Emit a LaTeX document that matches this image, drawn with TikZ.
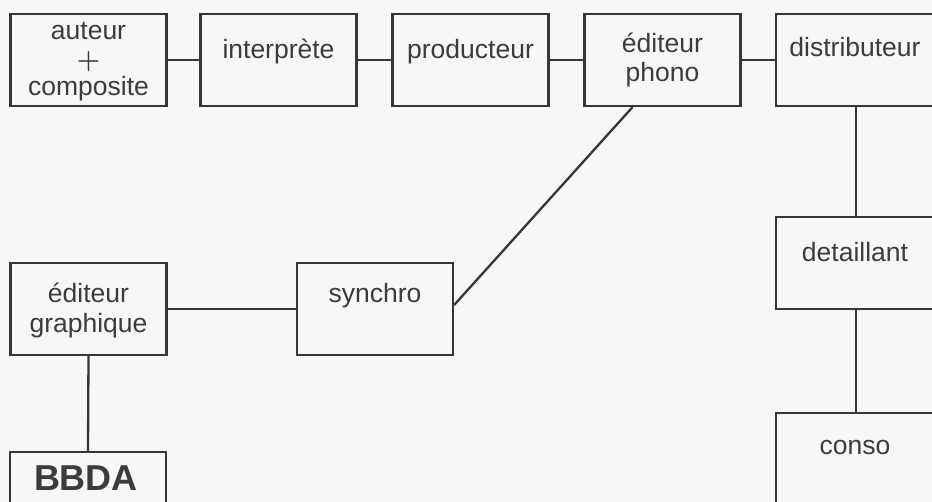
\documentclass[tikz,border=0pt]{standalone}
\usepackage{fontspec}
\setmainfont{Liberation Sans}
\newfontfamily\plusfont[FakeBold=0.6]{Latin Modern Roman}
\definecolor{ink}{HTML}{363636}
\definecolor{txtc}{HTML}{3C3C3C}
\definecolor{paper}{HTML}{F7F7F5}
\begin{document}
\begin{tikzpicture}[x=1pt,y=-1pt,
  box/.style={draw=ink,line width=2.3pt,minimum width=156pt,minimum height=92pt,inner sep=0pt},
  wide/.style={box,minimum width=160pt},
  txt/.style={text=txtc,font=\fontsize{26.5}{30}\selectfont,anchor=base,inner sep=0pt},
  big/.style={text=txtc,font=\fontsize{36}{40}\selectfont\bfseries,anchor=base,inner sep=0pt},
  link/.style={draw=ink,line width=2.3pt}]
\fill[paper] (0,0) rectangle (932,502);
\clip (0,0) rectangle (932,502);
\useasboundingbox (0,0) rectangle (932,502);

% top row
\node[box] (auteur) at (88.5,60) {};
\node[box] (interp) at (278.5,60) {};
\node[box] (prod) at (470.5,60) {};
\node[box] (ephono) at (662.5,60) {};
\node[wide] (distrib) at (856,60) {};
% right column
\node[wide] (detail) at (856,263) {};
\node[wide] (conso) at (856,459) {};
% left part
\node[box] (egraph) at (88.5,309) {};
\node[box] (synchro) at (375,309) {};
\node[box] (bbda) at (88,498) {};

% labels
\node[txt] (t-aut1) at (88.5,40) {auteur};
\node[text=txtc,font=\fontsize{32}{32}\plusfont,inner sep=0pt] (t-plus) at (88.5,61) {+};
\node[txt] (t-aut2) at (88.5,96) {composite};
\node[txt] (t-int) at (278.5,59) {interprète};
\node[txt] (t-prod) at (470.5,59) {producteur};
\node[txt] (t-ed1) at (662.5,53) {éditeur};
\node[txt] (t-ed2) at (662.5,82) {phono};
\node[txt] (t-dist) at (855,57) {distributeur};
\node[txt] (t-det) at (855,262) {detaillant};
\node[txt] (t-con) at (855,455) {conso};
\node[txt] (t-eg1) at (88.5,303) {éditeur};
\node[txt] (t-eg2) at (88.5,333) {graphique};
\node[txt] (t-syn) at (375,303) {synchro};
\node[big] (t-bbda) at (86,490) {BBDA};

% connectors
\draw[link] (auteur) -- (interp);
\draw[link] (interp) -- (prod);
\draw[link] (prod) -- (ephono);
\draw[link] (ephono) -- (distrib);
\draw[link] (distrib) -- (detail);
\draw[link] (detail) -- (conso);
\draw[link] (egraph) -- (synchro);
\draw[link] ([yshift=4pt]synchro.east) -- ([xshift=-30pt]ephono.south);
\draw[link] (egraph.south) -- (bbda.north);
\end{tikzpicture}
\end{document}
